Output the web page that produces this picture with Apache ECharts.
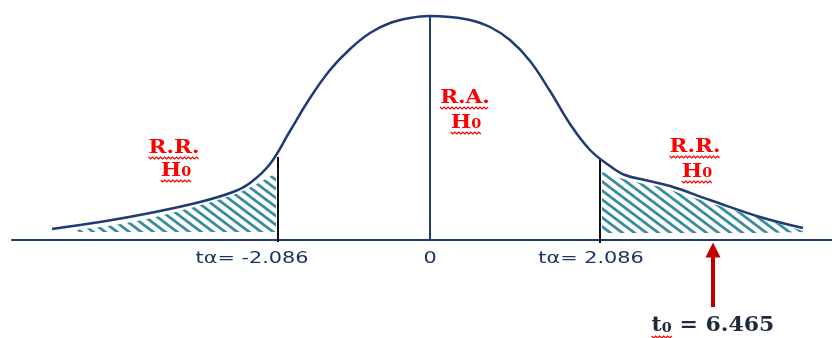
<!DOCTYPE html>
<html>
<head>
<meta charset="utf-8">
<script src="https://cdn.jsdelivr.net/npm/echarts@6/dist/echarts.min.js"></script>
<style>
html,body{margin:0;padding:0;background:#fff;}
#chart{width:832px;height:338px;}
</style>
</head>
<body>
<div id="chart"></div>
<script>
// curve of the t distribution as drawn (x along axis, y height above the axis)
var curveX = [52, 100, 150, 200, 233, 250, 270, 290, 310, 330, 350, 370, 390, 410, 429, 450, 470, 490, 510, 530, 550, 570, 590, 610, 625, 645, 670, 710, 760, 803];
var curveY = [11, 18, 27, 38, 48, 57, 76, 109, 142, 170, 191, 207, 217, 222, 224, 223, 220, 213, 200, 179, 149, 116, 90, 74, 65, 60, 54, 40, 23, 12];
// hatched rejection regions
var leftHatchX = [77, 133, 183, 233, 255, 276];
var leftHatchY = [10, 18, 30, 45, 55, 67];
var rightHatchX = [602, 620, 640, 660, 710, 760, 807];
var rightHatchY = [68, 62, 57, 53, 37, 22, 8];
// critical values and centre
var cutX = [278, 430, 600];
var cutTop = [83, 224, 81];
var cutBottom = [-2, 0, -3];
// tick labels under the axis
var tickLabels = ['tα= -2.086', '0', 'tα= 2.086'];
var tickLabelX = [252, 430, 591];
var tickLabelY = -19;
// region labels (main text, subscript)
var regionMain = ['R.R.', 'H', 'R.A.', 'H', 'R.R.', 'H'];
var regionSub = ['', '0', '', '0', '', '0'];
var regionX = [174, 176, 465, 466, 695, 697];
var regionY = [92, 69, 142, 117, 93, 68];
// observed statistic
var statMain = 't';
var statSub = '0';
var statRest = ' = 6.465';
var statX = 713;
var statY = -86;
var arrowFrom = -67;
var arrowTo = -10;

function zip(xs, ys) {
	var out = [];
	for (var i = 0; i < xs.length; i++) out.push([xs[i], ys[i]]);
	return out;
}

// diagonal hatch pattern
function makeHatch() {
	var w = 12, h = 9;
	var c = document.createElement('canvas');
	c.width = w; c.height = h;
	var g = c.getContext('2d');
	g.strokeStyle = '#3a8d9e';
	g.lineWidth = 2.8;
	g.beginPath();
	var offs = [[0, 0], [w, 0], [-w, 0], [0, h], [0, -h]];
	for (var i = 0; i < offs.length; i++) {
		g.moveTo(offs[i][0], offs[i][1]);
		g.lineTo(offs[i][0] + w, offs[i][1] + h);
	}
	g.stroke();
	return c;
}
var hatch = {image: makeHatch(), repeat: 'repeat'};

var measureCtx = document.createElement('canvas').getContext('2d');
function textWidth(str, font) {
	measureCtx.font = font;
	return measureCtx.measureText(str).width;
}

// wavy spell-check underline
function squiggle(x0, y, w) {
	var pts = [];
	for (var k = 0; k <= w; k += 2) pts.push([x0 + k, y + ((k / 2) % 2 === 0 ? -1 : 1)]);
	return {type: 'polyline', shape: {points: pts}, style: {stroke: '#ff0000', lineWidth: 1.2, fill: null}, silent: true};
}

var navy = '#1f3b73';
var cutColor = ['#111111', navy, '#111111'];
var serifBold = 'DejaVu Serif';

var series = [];
series.push({
	type: 'line', data: zip(leftHatchX, leftHatchY), symbol: 'none', smooth: 0.3, silent: true,
	lineStyle: {width: 0}, areaStyle: {color: hatch, opacity: 1, origin: 8}
});
series.push({
	type: 'line', data: zip(rightHatchX, rightHatchY), symbol: 'none', smooth: 0.2, silent: true,
	lineStyle: {width: 0}, areaStyle: {color: hatch, opacity: 1, origin: 7}
});
for (var i = 0; i < cutX.length; i++) {
	series.push({
		type: 'line', data: [[cutX[i], cutBottom[i]], [cutX[i], cutTop[i]]], symbol: 'none', silent: true,
		lineStyle: {color: cutColor[i], width: 2}
	});
}
series.push({
	type: 'line', data: zip(curveX, curveY), symbol: 'none', smooth: 0.4, silent: true,
	lineStyle: {color: navy, width: 2.5}
});

// tick labels (slightly widened like the original)
var tickData = [];
for (var i = 0; i < tickLabels.length; i++) tickData.push([tickLabelX[i], tickLabelY]);
series.push({
	type: 'custom', data: tickData, silent: true,
	renderItem: function (params, api) {
		var p = api.coord([api.value(0), api.value(1)]);
		return {
			type: 'text', x: p[0], y: p[1], scaleX: 1.3,
			style: {
				text: tickLabels[params.dataIndex], fill: '#1a3360',
				fontFamily: 'DejaVu Sans', fontSize: 16,
				align: 'center', verticalAlign: 'middle'
			}
		};
	}
});

// red region labels with underline
var regionData = [];
for (var i = 0; i < regionMain.length; i++) regionData.push([regionX[i], regionY[i]]);
series.push({
	type: 'custom', data: regionData, silent: true,
	renderItem: function (params, api) {
		var i = params.dataIndex;
		var p = api.coord([api.value(0), api.value(1)]);
		var sx = 1.2;
		var w = (textWidth(regionMain[i], 'bold 18px ' + serifBold) + textWidth(regionSub[i], 'bold 12px ' + serifBold)) * sx;
		var txt = regionSub[i] ? regionMain[i] + '{s|' + regionSub[i] + '}' : regionMain[i];
		return {
			type: 'group',
			children: [{
				type: 'text', x: p[0], y: p[1], scaleX: sx,
				style: {
					text: txt, fill: '#ff0000',
					fontFamily: serifBold, fontWeight: 'bold', fontSize: 18,
					align: 'center', verticalAlign: 'middle',
					rich: {s: {fill: '#ff0000', fontFamily: serifBold, fontWeight: 'bold', fontSize: 12, verticalAlign: 'bottom', padding: [0, 0, 1, 0]}}
				}
			}, squiggle(p[0] - w / 2, p[1] + 10, w)]
		};
	}
});

// observed value label and arrow
series.push({
	type: 'custom', data: [[statX, statY]], silent: true,
	renderItem: function (params, api) {
		var p = api.coord([api.value(0), api.value(1)]);
		var sx = 1.1;
		var wMain = textWidth(statMain, 'bold 20px ' + serifBold) * sx;
		var wSub = textWidth(statSub, 'bold 13px ' + serifBold) * sx;
		var wRest = textWidth(statRest, 'bold 20px ' + serifBold) * sx;
		var left = p[0] - (wMain + wSub + wRest) / 2;
		return {
			type: 'group',
			children: [{
				type: 'text', x: p[0], y: p[1], scaleX: sx,
				style: {
					text: statMain + '{s|' + statSub + '}' + statRest, fill: '#1f2a3c',
					fontFamily: serifBold, fontWeight: 'bold', fontSize: 20,
					align: 'center', verticalAlign: 'middle',
					rich: {s: {fill: '#1f2a3c', fontFamily: serifBold, fontWeight: 'bold', fontSize: 13, verticalAlign: 'bottom', padding: [0, 0, 1, 0]}}
				}
			}, squiggle(left, p[1] + 11, wMain + wSub)]
		};
	},
	markLine: {
		silent: true, animation: false,
		symbol: ['none', 'triangle'], symbolSize: 15,
		label: {show: false},
		lineStyle: {color: '#c00000', width: 4, type: 'solid'},
		data: [[{coord: [statX, arrowFrom]}, {coord: [statX, arrowTo]}]]
	}
});

var chart = echarts.init(document.getElementById('chart'));
chart.setOption({
	animation: false,
	grid: {left: 12, right: 0, top: 0, bottom: 0},
	xAxis: {
		type: 'value', min: 12, max: 832,
		axisLine: {show: true, onZero: true, lineStyle: {color: navy, width: 2}},
		axisTick: {show: false}, axisLabel: {show: false}, splitLine: {show: false}
	},
	yAxis: {
		type: 'value', min: -98, max: 240, show: false, splitLine: {show: false}
	},
	series: series
});
</script>
</body>
</html>
